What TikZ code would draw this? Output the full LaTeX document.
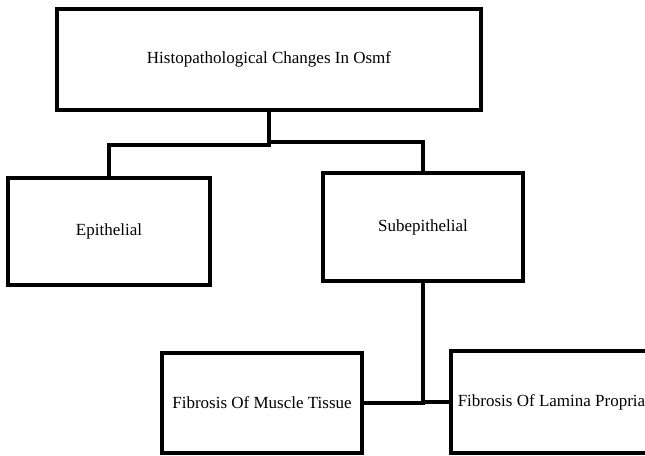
\documentclass[tikz,border=0pt]{standalone}
\usepackage{fontspec}
\setmainfont{Liberation Serif}
\begin{document}
\begin{tikzpicture}[x=1pt,y=1pt,
  box/.style={draw=black, line width=3.2pt, fill=white, rectangle, inner sep=0pt,
    font=\fontsize{17}{20}\selectfont},
  conn/.style={draw=black, line width=3.2pt, line cap=rect}]
\useasboundingbox (0,0) rectangle (645,455);
\fill[white] (0,0) rectangle (645,455);
\clip (0,0) rectangle (645,455);
\node[box, minimum width=424pt, minimum height=101pt] (top) at (269,395.5) {Histopathological Changes In Osmf};
\node[box, minimum width=202pt, minimum height=107pt] (epi) at (109,223.5) {Epithelial};
\node[box, minimum width=200pt, minimum height=108pt] (sub) at (423,228) {Subepithelial};
\node[box, minimum width=200pt, minimum height=100pt] (mus) at (262,52) {Fibrosis Of Muscle Tissue};
\node[box, minimum width=201pt, minimum height=102pt] (lam) at (551.5,53) {Fibrosis Of Lamina Propria};
\coordinate (bl) at (0,310);
\coordinate (br) at (0,313);
\draw[conn] (top.south) -- (top.south |- bl) -| (epi.north);
\draw[conn] (top.south |- br) -| (sub.north);
\draw[conn] (sub.south) |- (mus.east);
\draw[conn] (sub.south |- lam.west) -- (lam.west);
\end{tikzpicture}
\end{document}
